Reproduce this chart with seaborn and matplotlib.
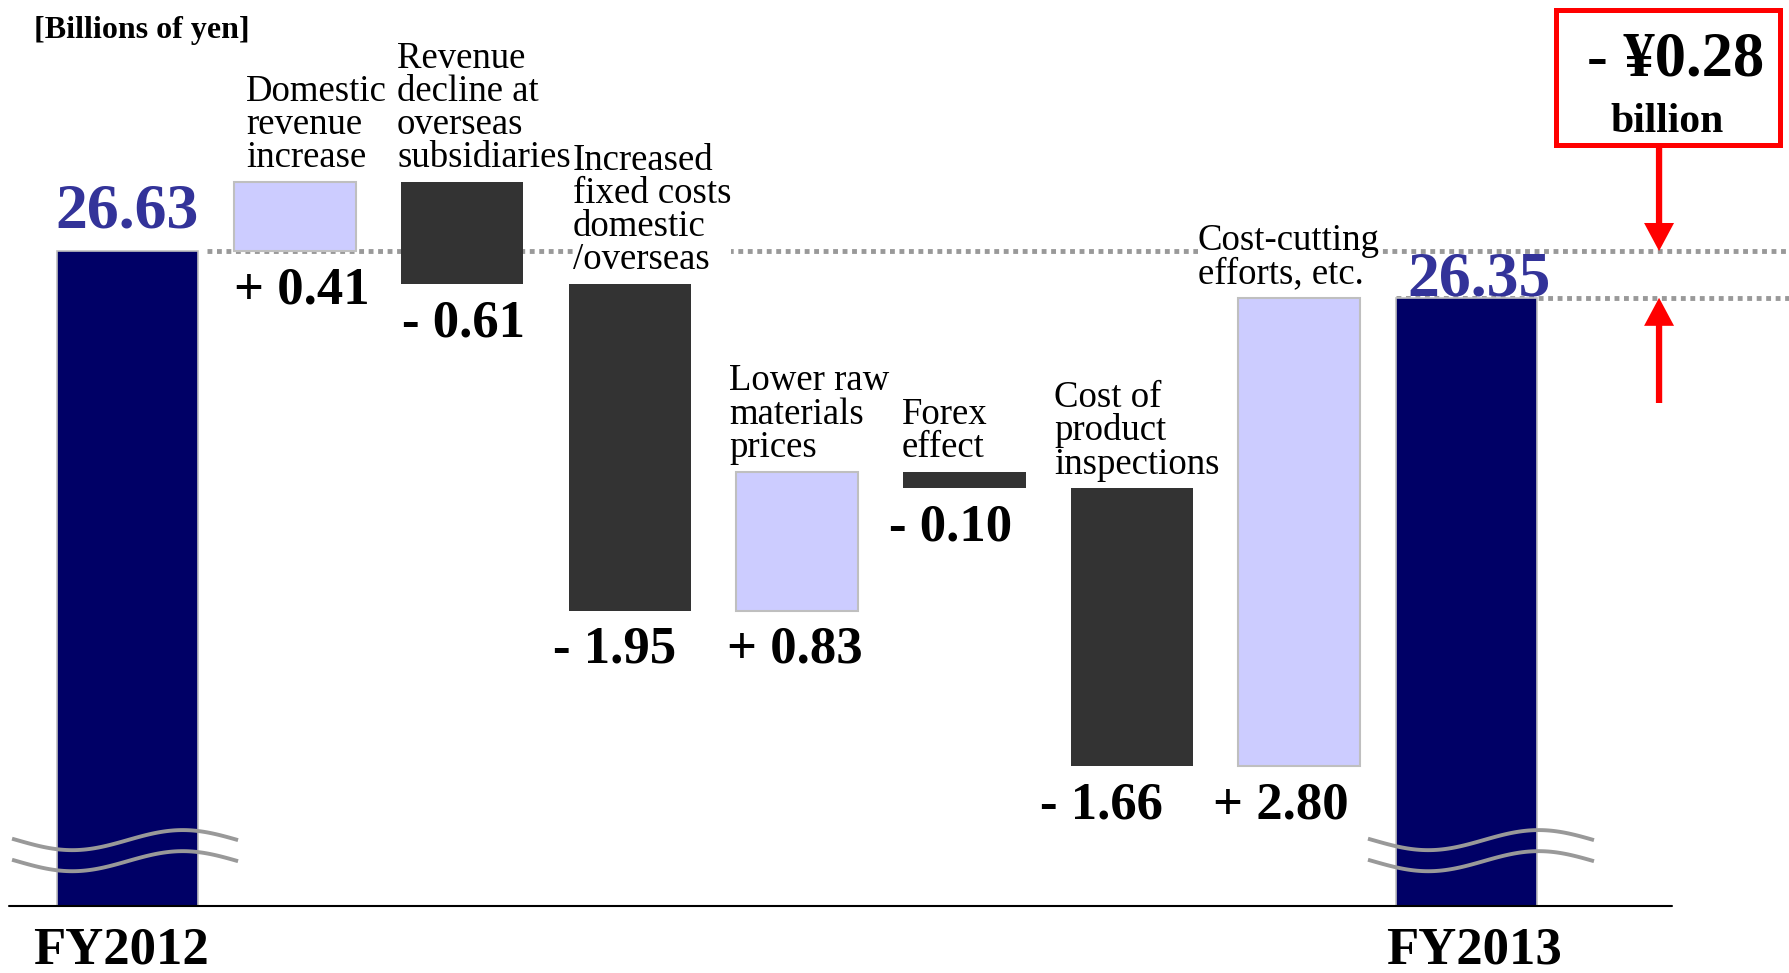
import numpy as np
import pandas as pd
import matplotlib.pyplot as plt
import seaborn as sns
from matplotlib.patches import Rectangle

# Operating income bridge, billions of yen
start_label = 'FY2012'
end_label = 'FY2013'
start_value = 26.63
end_value = 26.35
step_labels = ['Domestic\nrevenue\nincrease',
               'Revenue\ndecline at\noverseas\nsubsidiaries',
               'Increased\nfixed costs\ndomestic\n/overseas',
               'Lower raw\nmaterials\nprices',
               'Forex\neffect',
               'Cost of\nproduct\ninspections',
               'Cost-cutting\nefforts, etc.']
step_values = [0.41, -0.61, -1.95, 0.83, -0.10, -1.66, 2.80]
unit_text = '[Billions of yen]'
change_text = '- ¥0.28'
change_unit = 'billion'

# small nudges (points) so the labels sit like the original slide
label_dx = [9, -3, 3, -5, -1, -12, -29]
value_dx = [5, 1, -11, -2, -10, -22, -13]

sns.set_theme(style='white')
plt.rcParams['font.family'] = ['Liberation Serif', 'DejaVu Serif']
plt.rcParams['text.color'] = 'black'
plt.rcParams['xtick.color'] = 'black'

order = [start_label] + step_labels + [end_label]
after = start_value + np.cumsum(step_values)
before = np.concatenate([[start_value], after[:-1]])
steps = pd.DataFrame({'item': step_labels, 'change': step_values})
steps['low'] = np.minimum(before, after)
steps['high'] = np.maximum(before, after)
steps['size'] = steps['high'] - steps['low']
totals = pd.DataFrame({'item': [start_label, end_label],
                       'value': [start_value, end_value]})

fig = plt.figure(figsize=(17.89, 9.73), dpi=100)
ax = fig.add_axes([0, 67 / 973, 1, 906 / 973])

total_w = 0.84
step_w = 0.73

sns.barplot(data=totals, x='item', y='value', order=order, width=total_w,
            color='#000066', edgecolor='#c0c0c0', linewidth=1.2,
            errorbar=None, saturation=1, ax=ax)
ups = steps[steps['change'] > 0]
downs = steps[steps['change'] < 0]
sns.barplot(data=ups, x='item', y='size', order=order, width=step_w,
            color='#ccccff', edgecolor='#bfbfbf', linewidth=1.5,
            bottom=ups['low'].values, errorbar=None, saturation=1, ax=ax)
sns.barplot(data=downs, x='item', y='size', order=order, width=step_w,
            color='#333333', edgecolor='#333333', linewidth=0,
            bottom=downs['low'].values, errorbar=None, saturation=1, ax=ax)

ylo, yhi = 22.713, 28.131
xlo, xhi = -0.762, 9.925
ax.set_ylim(ylo, yhi)
ax.set_xlim(xlo, xhi)

# dotted reference lines at the start and end levels
dot = dict(color='#999999', lw=3.5, linestyle=(0, (1.0, 0.95)),
           dash_capstyle='butt', zorder=0.5)
ax.plot([total_w / 2 + 0.055, xhi], [start_value, start_value], **dot)
ax.plot([len(order) - 1 - total_w / 2, xhi], [end_value, end_value], **dot)

# step labels and values
for i, row in steps.iterrows():
    pos = i + 1
    ax.annotate(row['item'], xy=(pos - step_w / 2, row['high']),
                xytext=(label_dx[i], 5), textcoords='offset points',
                ha='left', va='bottom', fontsize=26.5, linespacing=0.95,
                color='black', zorder=4,
                bbox=dict(facecolor='white', edgecolor='none', pad=0))
    sign = '+' if row['change'] > 0 else '-'
    ax.annotate(f"{sign} {abs(row['change']):.2f}", xy=(pos, row['low']),
                xytext=(value_dx[i], -11), textcoords='offset points',
                ha='center', va='top', fontsize=38, fontweight='bold',
                color='black')

# totals labels
ax.annotate(f'{start_value:.2f}', xy=(0, start_value), xytext=(0, 17),
            textcoords='offset points', ha='center', va='baseline',
            fontsize=46, fontweight='bold', color='#333399')
ax.annotate(f'{end_value:.2f}', xy=(len(order) - 1, end_value),
            xytext=(9, 1.5), textcoords='offset points', ha='center',
            va='baseline', fontsize=46, fontweight='bold', color='#333399',
            zorder=5)

# axis break marks on the two total bars
xs = np.linspace(-0.69, 0.66, 80)
for c, shift in [(0, 0.0), (len(order) - 1, 0.1)]:
    for y0 in [23.107, 22.981]:
        ax.plot(c + shift + xs,
                y0 - 0.06 * np.cos(2 * np.pi * (xs + 0.33) / 1.32),
                color='#999999', lw=2.8, zorder=3, solid_capstyle='butt')

# base line and FY labels
ax.axhline(ylo, xmin=9 / 1789, xmax=1672 / 1789, color='black', lw=1.5,
           clip_on=False, zorder=5)
ax.set_xticks([-0.04, len(order) - 1 + 0.04], [start_label, end_label])
ax.tick_params(axis='x', length=0, pad=15, labelsize=38, labelcolor='black')
for lab in ax.get_xticklabels():
    lab.set_fontweight('bold')
ax.set_yticks([])
ax.set_xlabel('')
ax.set_ylabel('')
sns.despine(ax=ax, left=True, bottom=True)

ax.text(34 / 1789, 1 - 38 / 906, unit_text, transform=ax.transAxes,
        ha='left', va='baseline', fontsize=23, fontweight='bold',
        color='black')

# red call-out box with the net change
box = Rectangle((1555.5 / 1789, 1 - 144.5 / 906), 224 / 1789, 135 / 906,
                transform=ax.transAxes, facecolor='white', edgecolor='red',
                lw=3.6, clip_on=False, zorder=5)
ax.add_patch(box)
ax.text(1676 / 1789, 1 - 76 / 906, change_text, transform=ax.transAxes,
        ha='center', va='baseline', fontsize=45, fontweight='bold',
        color='black', zorder=6)
ax.text(1667 / 1789, 1 - 132 / 906, change_unit, transform=ax.transAxes,
        ha='center', va='baseline', fontsize=30, fontweight='bold',
        color='black', zorder=6)

arrow_x = (1659 - 127.5) / 167.4
box_bottom = ylo + (1 - 147 / 906) * (yhi - ylo)
tail_low = ylo + (1 - 403 / 906) * (yhi - ylo)
arr = dict(width=0.0376, head_width=0.179, head_length=0.1675,
           length_includes_head=True, color='red', lw=0, zorder=6)
ax.arrow(arrow_x, box_bottom, 0, start_value - box_bottom, **arr)
ax.arrow(arrow_x, tail_low, 0, end_value - tail_low, **arr)

fig.savefig('out.png', dpi=100, facecolor='white')
